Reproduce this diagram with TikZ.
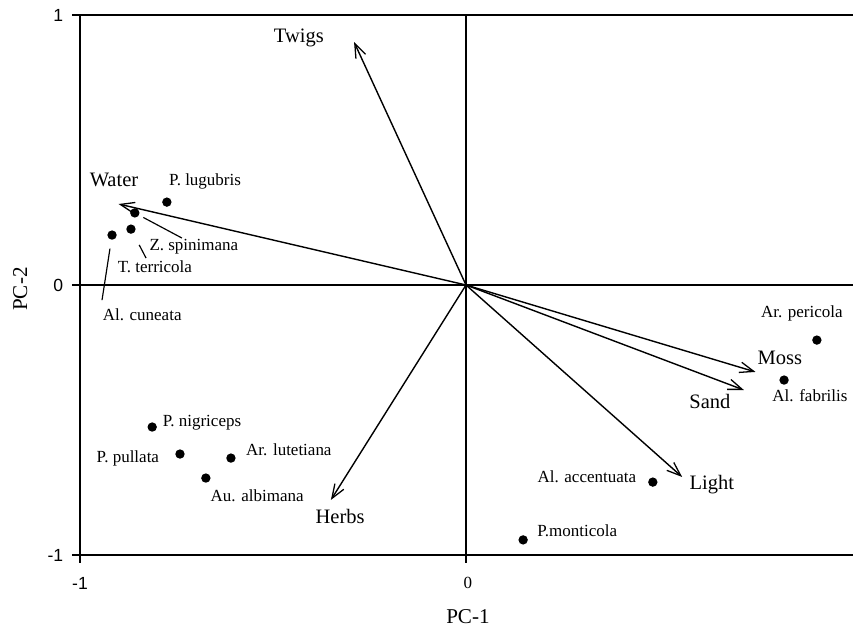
\documentclass[tikz,border=0pt]{standalone}
\usepackage{fontspec}
\setmainfont{Liberation Serif}
\newfontfamily\axfont{Liberation Sans}
\usetikzlibrary{arrows.meta}

\tikzset{
  frame/.style={line width=1.2pt},
  vec/.style={line width=1.2pt,-{Straight Barb[length=12pt,width=9pt,line width=1.1pt]}},
  dot/.style={circle,fill=black,inner sep=0pt,minimum size=8pt},
  lead/.style={line width=1pt},
  spec/.style={font=\fontsize{14.5}{17}\selectfont,inner sep=0pt},
  var/.style={font=\fontsize{17.5}{20}\selectfont,inner sep=0pt},
  tick/.style={font=\axfont\fontsize{15}{17}\selectfont,inner sep=0pt}
}

\begin{document}
\begin{tikzpicture}[x=11.58cm,y=8.1cm]
  \useasboundingbox (-1.2073,-1.2704) rectangle (1.0026,1.0556);
  % frame and axes
  \draw[frame] (1.01,1) -- (-1,1) -- (-1,-1) -- (1.01,-1);
  \draw[frame] (-1.021,0) -- (1.01,0);
  \draw[frame] (0,1) -- (0,-1.03);
  \draw[frame] (-1,-1) -- (-1,-1.03);
  \foreach \y in {1,-1} \draw[frame] (-1.021,\y) -- (-1,\y);
  \foreach \y/\t in {1/1, 0/0, -1/-1}
     \node[tick,anchor=east] (ty\t) at (-1.043,\y) {\t};
  \node[tick] (tx-1) at (-1,-1.104) {-1};
  \node[font=\fontsize{14.5}{17}\selectfont,inner sep=0pt] (tx0) at (0.005,-1.104) {0};
  \node[font=\fontsize{18}{21}\selectfont,inner sep=0pt] (pc1) at (0.005,-1.228) {PC-1};
  \node[font=\fontsize{18}{21}\selectfont,inner sep=0pt,rotate=90] (pc2) at (-1.155,-0.015) {PC-2};
  % environmental vectors
  \coordinate (o) at (0,0);
  \foreach \n/\x/\y in {twigs/-0.29/0.90, water/-0.90/0.30, moss/0.75/-0.322,
                        sand/0.72/-0.389, light/0.56/-0.711, herbs/-0.35/-0.796}
     \coordinate (\n) at (\x,\y);
  \foreach \n in {twigs,water,moss,sand,light,herbs} \draw[vec] (o) -- (\n);
  \foreach \n/\x/\y/\t in {twigs/-0.433/0.915/Twigs, water/-0.912/0.389/Water,
                           moss/0.813/-0.270/Moss, sand/0.632/-0.433/Sand,
                           light/0.637/-0.741/Light, herbs/-0.326/-0.856/Herbs}
     \node[var] (\n-t) at (\x,\y) {\t};
  % species
  \foreach \n/\x/\y in {lug/-0.775/0.307, spi/-0.858/0.267, ter/-0.868/0.207,
                        cun/-0.917/0.185, nig/-0.813/-0.526, pul/-0.741/-0.626,
                        lut/-0.609/-0.641, alb/-0.674/-0.715, acc/0.484/-0.730,
                        mon/0.148/-0.944, per/0.909/-0.204, fab/0.824/-0.352}
     \node[dot] (\n) at (\x,\y) {};
  \foreach \n/\x/\y/\t in {lug/-0.676/0.385/{P. lugubris}, spi/-0.705/0.141/{Z. spinimana},
                           ter/-0.806/0.067/{T. terricola}, cun/-0.839/-0.111/{Al. cuneata},
                           nig/-0.684/-0.511/{P. nigriceps}, pul/-0.876/-0.641/{P. pullata},
                           lut/-0.459/-0.611/{Ar. lutetiana}, alb/-0.541/-0.781/{Au. albimana},
                           acc/0.313/-0.711/{Al. accentuata}, mon/0.288/-0.911/{P.monticola},
                           per/0.870/-0.104/{Ar. pericola}, fab/0.891/-0.411/{Al. fabrilis}}
     \node[spec] (\n-t) at (\x,\y) {\t};
  % leaders
  \coordinate (spi-e) at (-0.736,0.174);
  \coordinate (ter-e) at (-0.829,0.100);
  \coordinate (cun-e) at (-0.943,-0.056);
  \draw[lead,shorten <=4pt] (spi) -- (spi-e);
  \draw[lead,shorten <=11pt] (ter) -- (ter-e);
  \draw[lead,shorten <=7.5pt] (cun) -- (cun-e);
\end{tikzpicture}
\end{document}
